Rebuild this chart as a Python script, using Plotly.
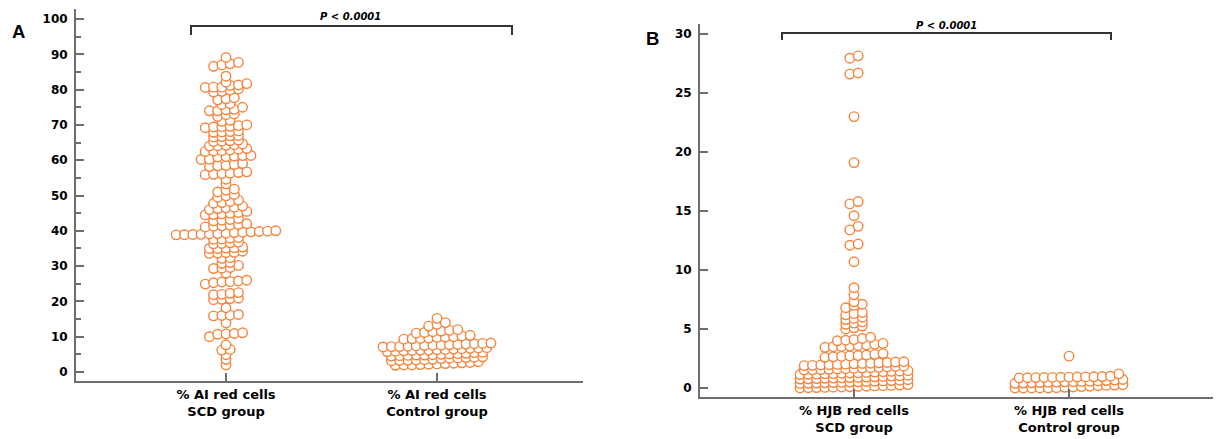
import plotly.graph_objects as go

# ---------------- data ----------------
a_categories = ["% AI red cells<br>SCD group", "% AI red cells<br>Control group"]
b_categories = ["% HJB red cells<br>SCD group", "% HJB red cells<br>Control group"]

a_scd = [2.0, 3.6, 4.9, 6.2, 6.4, 7.7,
         10.0, 10.7, 10.8, 10.9, 11.1, 13.9,
         15.9, 16.0, 16.1, 16.3, 18.2,
         20.5, 20.6, 20.8, 20.9, 21.9, 22.0, 22.3, 22.5,
         24.9, 25.3, 25.5, 25.6, 25.8, 26.0, 28.0,
         29.3, 29.4, 29.6, 30.2, 30.8, 31.0, 32.2, 32.4,
         33.6, 33.7, 33.8, 33.9, 34.2, 35.0, 35.0, 35.1, 35.2, 35.4,
         36.3, 36.4, 36.6, 36.8, 37.6, 37.7, 37.9, 38.1,
         38.85, 38.9, 38.95, 39.0, 39.1, 39.2, 39.3, 39.5, 39.6, 39.7, 39.8, 39.9, 40.0,
         41.1, 41.3, 41.4, 41.6, 41.8, 42.0, 42.8, 43.0, 43.2, 43.5,
         44.5, 44.6, 44.8, 45.0, 45.2, 45.5, 46.0, 46.3, 46.5, 46.7, 47.0,
         47.8, 48.0, 48.3, 48.7, 49.5, 49.9, 50.3, 51.0, 51.5, 51.8,
         53.3, 54.6, 55.9, 56.0, 56.2, 56.3, 56.5, 56.7,
         58.2, 58.4, 58.5, 58.8, 59.1,
         60.2, 60.3, 60.9, 61.0, 61.2, 61.3, 61.35,
         62.5, 62.6, 62.7, 62.9, 63.1, 63.3, 64.0, 64.1, 64.2, 64.4, 64.6,
         65.3, 65.4, 65.5, 65.7, 66.6, 66.7, 66.9, 67.0, 67.9, 68.0, 68.1, 68.3,
         69.2, 69.4, 69.5, 69.6, 69.8, 70.0, 71.0, 71.3, 72.4, 72.9, 73.1,
         74.0, 74.0, 74.3, 74.4, 75.0, 75.8, 76.0, 77.1, 77.4, 77.7,
         79.3, 79.5, 79.9, 80.2, 80.6, 80.7, 80.7, 81.2, 81.3, 81.7,
         82.1, 83.8, 86.6, 87.0, 87.3, 87.7, 89.1]

a_control = [1.9, 2.0, 2.0, 2.1, 2.2, 2.3, 2.4, 2.5, 2.6, 2.7, 2.9,
             3.2, 3.3, 3.3, 3.4, 3.5, 3.6, 3.8, 3.9, 4.0, 4.1, 4.2, 4.3,
             4.5, 4.6, 4.7, 4.8, 4.8, 4.9, 5.0, 5.1, 5.2, 5.3, 5.5, 5.6,
             5.8, 5.9, 6.0, 6.1, 6.2, 6.2, 6.3, 6.4, 6.5, 6.6, 6.7, 6.8, 6.9,
             7.1, 7.2, 7.2, 7.3, 7.4, 7.5, 7.6, 7.6, 7.7, 7.8, 7.9, 8.0, 8.1, 8.2,
             9.3, 9.4, 9.5, 9.6, 9.8, 9.9, 10.0, 10.2, 10.4,
             11.0, 11.2, 11.4, 11.6, 11.8, 12.0,
             13.0, 13.5, 14.0, 15.2]

b_scd = [0.0, 0.02, 0.04, 0.05, 0.07, 0.09, 0.11, 0.13, 0.15, 0.18, 0.2, 0.22, 0.25, 0.29,
         0.38, 0.4, 0.42, 0.44, 0.46, 0.48, 0.5, 0.52, 0.55, 0.57, 0.6, 0.63, 0.66, 0.7,
         0.76, 0.78, 0.8, 0.82, 0.84, 0.86, 0.88, 0.9, 0.93, 0.95, 0.98, 1.01, 1.04, 1.08,
         1.14, 1.16, 1.18, 1.2, 1.22, 1.25, 1.27, 1.3, 1.32, 1.35, 1.38, 1.41, 1.44, 1.47,
         1.52, 1.54, 1.56, 1.58, 1.61, 1.63, 1.66, 1.69, 1.72, 1.75, 1.78, 1.82, 1.85,
         1.9, 1.92, 1.95, 1.97, 2.0, 2.02, 2.05, 2.08, 2.1, 2.13, 2.16, 2.2, 2.23,
         2.6, 2.64, 2.68, 2.72, 2.76, 2.8, 2.85, 2.92,
         3.45, 3.5, 3.52, 3.55, 3.6, 3.65, 3.7, 3.78,
         4.0, 4.05, 4.1, 4.2, 4.3,
         5.0, 5.1, 5.25, 5.4, 5.5, 5.6, 5.8, 5.9, 6.0, 6.2, 6.3, 6.4, 6.8, 7.0, 7.1,
         7.3, 7.9, 8.5, 10.7, 12.1, 12.2, 13.4, 13.7, 14.6, 15.6, 15.8,
         19.1, 23.0, 26.6, 26.7, 27.95, 28.15]

b_control = [0.0, 0.0, 0.0, 0.0, 0.0, 0.03, 0.06, 0.09, 0.12, 0.15, 0.19, 0.22, 0.25, 0.28,
             0.4, 0.42, 0.44, 0.46, 0.48, 0.5, 0.52, 0.54, 0.56, 0.58, 0.6, 0.63, 0.67, 0.72,
             0.86, 0.87, 0.88, 0.89, 0.9, 0.91, 0.92, 0.93, 0.94, 0.95, 0.97, 1.0, 1.2,
             2.7]

p_text = "P < 0.0001"

# ---------------- layout geometry ----------------
W, H = 1227, 439
ORANGE = "rgb(245,132,60)"
AXIS = "#6e6e6e"

A_X0, A_X1 = 76, 583
A_Y_TOP, A_Y_BOT = 9, 381
A_PX_PER_UNIT = 3.53
A_ZERO = 372
A_CAT0, A_CAT_SP = 226, 211

B_X0, B_X1 = 700, 1213
B_Y_TOP, B_Y_BOT = 24, 397
B_PX_PER_UNIT = 11.8
B_ZERO = 388
B_CAT0, B_CAT_SP = 854, 215

ROW_PX = 4.3     # vertical extent of one dot row (pixels)
COL_PX = 8.3     # horizontal spacing of dots in a row (pixels)


def dot_rows(vals, pxu):
    """Binned dot plot: consecutive sorted values within one row height share a row,
    spread horizontally, centred, ascending from left to right."""
    order = sorted(range(len(vals)), key=lambda i: vals[i])
    h = ROW_PX / pxu
    groups, start = [], None
    for i in order:
        if start is None or vals[i] - start >= h - 1e-9:
            groups.append([i])
            start = vals[i]
        else:
            groups[-1].append(i)
    offs = [0.0] * len(vals)
    for g in groups:
        m = len(g)
        for j, i in enumerate(g):
            offs[i] = (j - (m - 1) / 2) * COL_PX
    return order, offs


def trace(vals, cat, pxu, cat_sp, xa, ya):
    order, offs = dot_rows(vals, pxu)
    xs = [cat + offs[i] / cat_sp for i in order]
    ys = [vals[i] for i in order]
    return go.Scatter(x=xs, y=ys, mode="markers", xaxis=xa, yaxis=ya,
                      marker=dict(symbol="circle", size=9.5, color="white",
                                  line=dict(color=ORANGE, width=1.4)),
                      hoverinfo="y")


fig = go.Figure()
fig.add_trace(trace(a_scd, 0, A_PX_PER_UNIT, A_CAT_SP, "x", "y"))
fig.add_trace(trace(a_control, 1, A_PX_PER_UNIT, A_CAT_SP, "x", "y"))
fig.add_trace(trace(b_scd, 0, B_PX_PER_UNIT, B_CAT_SP, "x2", "y2"))
fig.add_trace(trace(b_control, 1, B_PX_PER_UNIT, B_CAT_SP, "x2", "y2"))

tickfont_x = dict(family="DejaVu Sans", size=13, color="black", weight="bold")
tickfont_y = dict(family="DejaVu Sans", size=12, color="black", weight="bold")


def xaxis(x0, x1, cat0, sp, ticktext, anchor):
    return dict(domain=[x0 / W, x1 / W], range=[(x0 - cat0) / sp, (x1 - cat0) / sp],
                tickmode="array", tickvals=[0, 1], ticktext=ticktext,
                ticks="inside", ticklen=8, tickwidth=1.5, tickcolor=AXIS,
                showline=True, linecolor=AXIS, linewidth=2, showgrid=False,
                zeroline=False, anchor=anchor, tickfont=tickfont_x, fixedrange=True)


def yaxis(ytop, ybot, zero, pxu, anchor):
    return dict(domain=[(H - ybot) / H, (H - ytop) / H],
                range=[(zero - ybot) / pxu, (zero - ytop) / pxu],
                ticks="inside", ticklen=8, tickwidth=1.5, tickcolor=AXIS,
                showline=True, linecolor=AXIS, linewidth=2, showgrid=False,
                zeroline=False, anchor=anchor, tickfont=tickfont_y,
                ticklabelstandoff=4, fixedrange=True)


ya = yaxis(A_Y_TOP, A_Y_BOT, A_ZERO, A_PX_PER_UNIT, "x")
ya.update(tickmode="array", tickvals=list(range(0, 101, 10)),
          minor=dict(ticks="inside", ticklen=5, tickwidth=1.5, tickcolor=AXIS,
                     tickvals=list(range(5, 100, 10)), showgrid=False))
yb = yaxis(B_Y_TOP, B_Y_BOT, B_ZERO, B_PX_PER_UNIT, "x2")
yb.update(tickmode="array", tickvals=list(range(0, 31, 5)))


def bracket(x1, x2, ytop, ybot):
    X1, X2 = x1 / W, x2 / W
    Yt, Yb = 1 - ytop / H, 1 - ybot / H
    return dict(type="path", xref="paper", yref="paper",
                path=f"M {X1},{Yb} L {X1},{Yt} L {X2},{Yt} L {X2},{Yb}",
                line=dict(color="#333333", width=2))


def label(text, x, y, size, family, italic=False):
    return dict(text=text, x=x / W, y=1 - y / H, xref="paper", yref="paper",
                showarrow=False, xanchor="center", yanchor="middle",
                font=dict(family=family, size=size, color="black", weight="bold",
                          style="italic" if italic else "normal"))


fig.update_layout(
    width=W, height=H, margin=dict(l=0, r=0, t=0, b=0),
    paper_bgcolor="white", plot_bgcolor="white", showlegend=False,
    xaxis=xaxis(A_X0, A_X1, A_CAT0, A_CAT_SP, a_categories, "y"),
    yaxis=ya,
    xaxis2=xaxis(B_X0, B_X1, B_CAT0, B_CAT_SP, b_categories, "y2"),
    yaxis2=yb,
    shapes=[bracket(191, 512, 26, 35), bracket(782, 1111, 33, 40)],
    annotations=[
        label(p_text, 350, 17, 10, "DejaVu Sans", italic=True),
        label(p_text, 947, 25, 10, "DejaVu Sans", italic=True),
        label("A", 18, 31, 18.5, "Liberation Sans"),
        label("B", 652, 38, 18.5, "Liberation Sans"),
    ],
)

fig.write_html("out.html")
